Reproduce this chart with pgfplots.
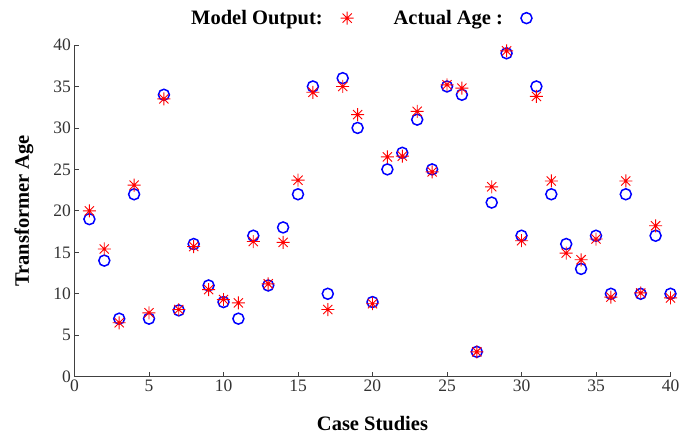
\documentclass[border=0pt]{standalone}
\usepackage{fontspec}
\setmainfont{Liberation Serif}
\usepackage{pgfplots}
\pgfplotsset{compat=1.18}

% MATLAB-style asterisk: a plus and a cross
\pgfdeclareplotmark{mstar}{%
  \pgfpathmoveto{\pgfqpoint{-\pgfplotmarksize}{0pt}}%
  \pgfpathlineto{\pgfqpoint{\pgfplotmarksize}{0pt}}%
  \pgfpathmoveto{\pgfqpoint{0pt}{-\pgfplotmarksize}}%
  \pgfpathlineto{\pgfqpoint{0pt}{\pgfplotmarksize}}%
  \pgfpathmoveto{\pgfqpoint{-0.7071\pgfplotmarksize}{-0.7071\pgfplotmarksize}}%
  \pgfpathlineto{\pgfqpoint{0.7071\pgfplotmarksize}{0.7071\pgfplotmarksize}}%
  \pgfpathmoveto{\pgfqpoint{-0.7071\pgfplotmarksize}{0.7071\pgfplotmarksize}}%
  \pgfpathlineto{\pgfqpoint{0.7071\pgfplotmarksize}{-0.7071\pgfplotmarksize}}%
  \pgfusepathqstroke}

\begin{document}
\begin{tikzpicture}
\begin{axis}[
  scale only axis, width=596bp, height=331.7bp,
  xmin=0, xmax=40, ymin=0, ymax=40,
  xtick={0,5,...,40}, ytick={0,5,...,40},
  axis lines=left, axis line style={-, black!75, line width=0.8bp},
  tick align=inside, major tick length=5bp, tick style={black!75, line width=0.8bp},
  ticklabel style={font=\fontsize{17.5bp}{20bp}\selectfont, text=black!80},
  /pgf/number format/assume math mode=true,
  xlabel={\bfseries Case Studies}, ylabel={\bfseries Transformer Age},
  label style={font=\fontsize{20.5bp}{24bp}\selectfont},
  xlabel style={at={(axis description cs:0.5,-0.1416)}, anchor=center},
  ylabel style={at={(axis description cs:-0.0847,0.5)}, anchor=center, rotate=0},
  clip=false,
  legend columns=2, legend plot pos=right,
  legend style={draw=none, fill=none, at={(0.48,1.081)}, anchor=center,
    font=\fontsize{20.5bp}{24bp}\selectfont\bfseries,
    /tikz/every odd column/.append style={column sep=16bp},
    /tikz/every even column/.append style={column sep=38bp}},
]
% Actual age
\addplot[only marks, mark=o, mark size=5.5bp, blue, line width=1.5bp, forget plot]
  coordinates {
  (1,19) (2,14) (3,7) (4,22) (5,7) (6,34) (7,8) (8,16) (9,11) (10,9)
  (11,7) (12,17) (13,11) (14,18) (15,22) (16,35) (17,10) (18,36) (19,30) (20,9)
  (21,25) (22,27) (23,31) (24,25) (25,35) (26,34) (27,3) (28,21) (29,39) (30,17)
  (31,35) (32,22) (33,16) (34,13) (35,17) (36,10) (37,22) (38,10) (39,17) (40,10)
  };
% Model output
\addplot[only marks, mark=mstar, mark size=6.5bp, red, line width=0.9bp]
  coordinates {
  (1,20) (2,15.4) (3,6.5) (4,23.1) (5,7.7) (6,33.5) (7,8.1) (8,15.7) (9,10.5) (10,9.3)
  (11,8.9) (12,16.3) (13,11.2) (14,16.2) (15,23.7) (16,34.3) (17,8.1) (18,35) (19,31.6) (20,8.8)
  (21,26.5) (22,26.6) (23,32) (24,24.7) (25,35.2) (26,34.8) (27,3) (28,22.9) (29,39.3) (30,16.4)
  (31,33.8) (32,23.6) (33,14.9) (34,14.1) (35,16.6) (36,9.6) (37,23.6) (38,10.1) (39,18.2) (40,9.5)
  };
\addlegendentry{Model Output:}
\addlegendimage{only marks, mark=o, mark size=5.5bp, blue, line width=1.5bp}
\addlegendentry{Actual Age :}
\end{axis}
\pgfresetboundingbox
\useasboundingbox (-74.5bp,-59.3bp) rectangle (618.5bp,376.7bp);
\end{tikzpicture}
\end{document}
